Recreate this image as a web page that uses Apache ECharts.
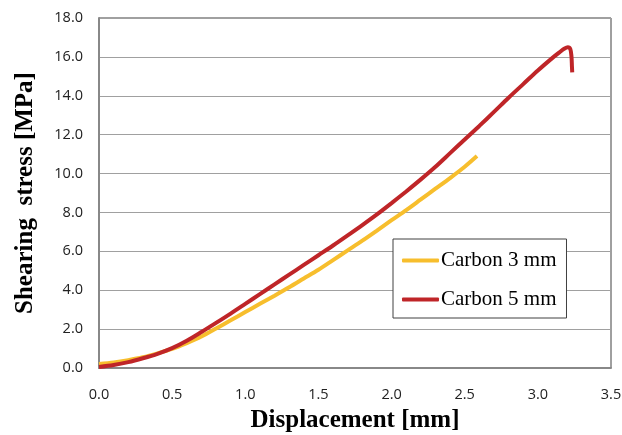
<!DOCTYPE html>
<html>
<head>
<meta charset="utf-8">
<script src="https://cdn.jsdelivr.net/npm/echarts@6/dist/echarts.min.js"></script>
<style>html,body{margin:0;padding:0;background:#fff}#c{width:622px;height:435px}</style>
</head>
<body>
<div id="c"></div>
<script>
var xTicks = ['0.0','0.5','1.0','1.5','2.0','2.5','3.0','3.5'];
var yTicks = ['0.0','2.0','4.0','6.0','8.0','10.0','12.0','14.0','16.0','18.0'];
var carbon3 = [[0,0.2],[0.1,0.28],[0.2,0.4],[0.3,0.55],[0.4,0.75],[0.5,0.98],[0.6,1.28],[0.7,1.62],[0.8,2.03],[0.9,2.45],[1.0,2.88],[1.1,3.3],[1.2,3.72],[1.3,4.15],[1.4,4.6],[1.5,5.05],[1.6,5.55],[1.7,6.05],[1.8,6.55],[1.9,7.07],[2.0,7.6],[2.1,8.12],[2.2,8.67],[2.3,9.22],[2.4,9.77],[2.5,10.35],[2.584,10.9]];
var carbon5 = [[0,0.05],[0.1,0.15],[0.2,0.3],[0.3,0.5],[0.4,0.73],[0.5,1.02],[0.6,1.4],[0.7,1.85],[0.8,2.32],[0.9,2.8],[1.0,3.3],[1.1,3.8],[1.2,4.3],[1.3,4.8],[1.4,5.3],[1.5,5.8],[1.6,6.3],[1.7,6.82],[1.8,7.35],[1.9,7.9],[2.0,8.48],[2.1,9.08],[2.2,9.7],[2.3,10.35],[2.4,11.05],[2.5,11.75],[2.6,12.45],[2.7,13.17],[2.8,13.9],[2.9,14.6],[3.0,15.3],[3.1,15.95],[3.15,16.25],[3.18,16.42],[3.205,16.5],[3.222,16.4],[3.23,16.0],[3.233,15.5],[3.235,15.2]];

var chart = echarts.init(document.getElementById('c'));
chart.setOption({
  animation: false,
  grid: {left: 99, right: 11, top: 18, bottom: 67, show: true, borderColor: '#404040', borderWidth: 1, outerBoundsMode: 'none', containLabel: false},
  xAxis: {
    type: 'value', min: 0, max: 3.5, interval: 0.5,
    name: 'Displacement [mm]', nameLocation: 'middle', nameGap: 40,
    nameTextStyle: {fontFamily: 'Liberation Serif', fontWeight: 'bold', fontSize: 25, color: '#000'},
    axisLine: {show: true, lineStyle: {color: '#888', width: 2}},
    axisTick: {show: false},
    splitLine: {show: false},
    axisLabel: {fontFamily: 'Open Sans', fontSize: 14.5, color: '#222', margin: 19,
      formatter: function(v){ var i = Math.round(v/0.5); return xTicks[i]; }}
  },
  yAxis: {
    type: 'value', min: 0, max: 18, interval: 2,
    name: 'Shearing  stress [MPa]', nameLocation: 'middle', nameGap: 61,
    nameTextStyle: {fontFamily: 'Liberation Serif', fontWeight: 'bold', fontSize: 25, color: '#000'},
    axisLine: {show: true, lineStyle: {color: '#888', width: 2}},
    axisTick: {show: false},
    splitLine: {show: true, lineStyle: {color: '#a0a0a0', width: 1}},
    axisLabel: {fontFamily: 'Open Sans', fontSize: 14.5, color: '#222', margin: 16,
      formatter: function(v){ var i = Math.round(v/2); return yTicks[i]; }}
  },
  legend: {
    orient: 'vertical', left: 393, top: 239,
    padding: [11, 10, 8, 9], itemGap: 18,
    borderColor: '#404040', borderWidth: 1, backgroundColor: '#fff',
    itemWidth: 37, itemHeight: 4, icon: 'roundRect',
    textStyle: {fontFamily: 'Liberation Serif', fontSize: 21, color: '#000', padding: [0,0,0,-3]},
    data: ['Carbon 3 mm', 'Carbon 5 mm']
  },
  series: [
    {name: 'Carbon 3 mm', type: 'line', data: carbon3, showSymbol: false, smooth: 0.3,
     lineStyle: {color: '#F7BE2D', width: 4}, itemStyle: {color: '#F7BE2D'}},
    {name: 'Carbon 5 mm', type: 'line', data: carbon5, showSymbol: false, smooth: 0.3,
     lineStyle: {color: '#BF2528', width: 4}, itemStyle: {color: '#BF2528'}}
  ]
});
</script>
</body>
</html>
